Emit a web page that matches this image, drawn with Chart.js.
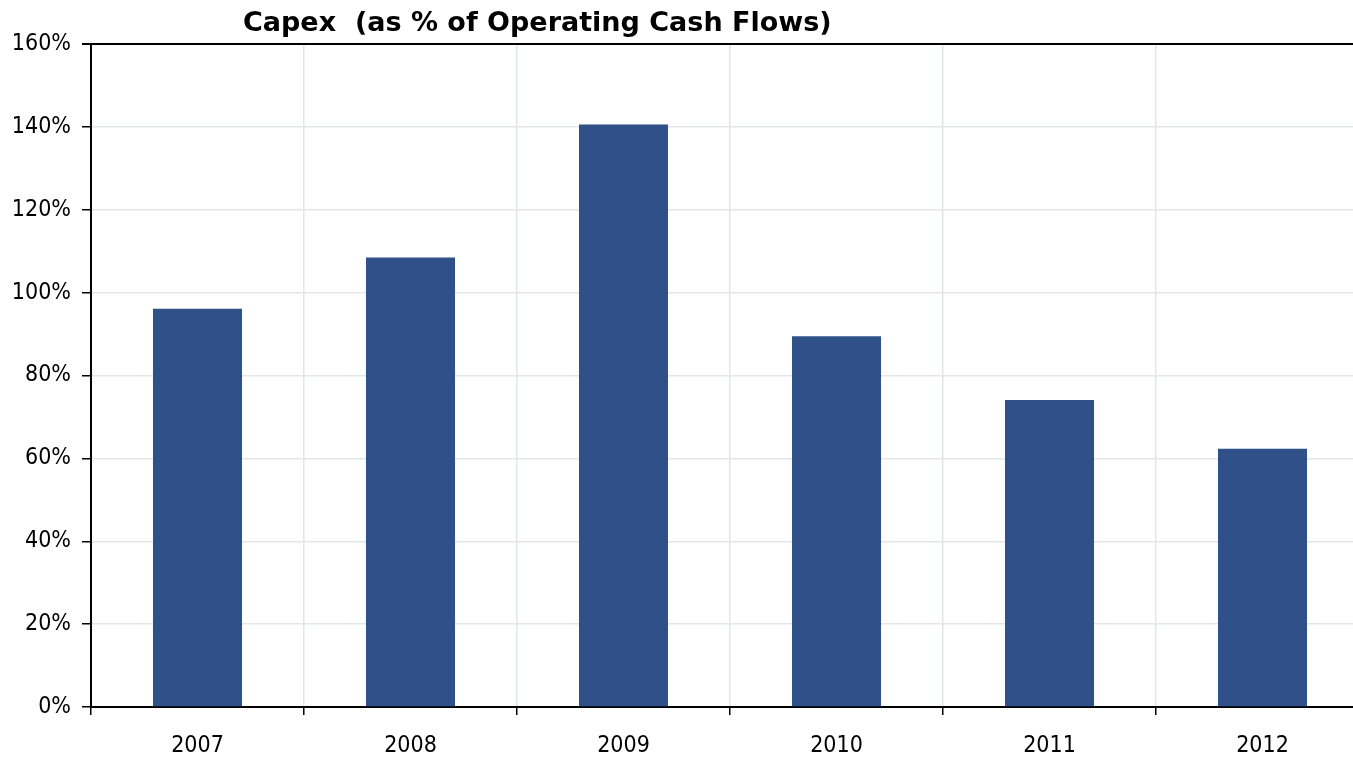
<!DOCTYPE html>
<html>
<head>
<meta charset="utf-8">
<script src="https://cdn.jsdelivr.net/npm/chart.js@4.4.1/dist/chart.umd.min.js"></script>
<style>
  html, body { margin: 0; padding: 0; background: #ffffff; overflow: hidden; }
  #wrap { position: relative; width: 1369px; height: 757px; }
</style>
</head>
<body>
<div id="wrap"><canvas id="c"></canvas></div>
<script>
const titleText = "Capex  (as % of Operating Cash Flows)";
const categories = ["2007", "2008", "2009", "2010", "2011", "2012"];
const capexPct = [96.1, 108.5, 140.6, 89.5, 74.1, 62.3];
const yTicks = [0, 20, 40, 60, 80, 100, 120, 140, 160];

const tickFont = { family: "'DejaVu Sans Condensed', 'Liberation Sans Narrow', sans-serif", size: 23 };

const titlePlugin = {
  id: 'leftTitle',
  afterDraw(chart) {
    const ctx = chart.ctx;
    ctx.save();
    ctx.font = "bold 27px 'DejaVu Sans', Verdana, sans-serif";
    ctx.fillStyle = '#000000';
    ctx.textBaseline = 'alphabetic';
    ctx.textAlign = 'left';
    ctx.fillText(titleText, 243, 31);
    ctx.restore();
  }
};

new Chart(document.getElementById('c'), {
  type: 'bar',
  data: {
    labels: categories,
    datasets: [{
      data: capexPct,
      backgroundColor: '#2F5089',
      borderWidth: 0,
      barPercentage: 0.418,
      categoryPercentage: 1.0
    }]
  },
  options: {
    responsive: true,
    maintainAspectRatio: false,
    animation: false,
    layout: { padding: { top: 44, right: 0, left: 0, bottom: 0 } },
    plugins: {
      legend: { display: false },
      title: { display: false },
      tooltip: { enabled: false }
    },
    scales: {
      x: {
        offset: true,
        grid: {
          offset: true,
          color: '#E2E8E8',
          lineWidth: 1.5,
          tickColor: '#000000',
          tickLength: 8,
          drawTicks: true
        },
        border: { color: '#000000', width: 2 },
        ticks: { color: '#000000', font: tickFont, padding: 17, maxRotation: 0 },
        afterFit(scale) { scale.height = 50; }
      },
      y: {
        min: 0,
        max: 160,
        afterBuildTicks(scale) { scale.ticks = yTicks.map(v => ({ value: v })); },
        grid: {
          color: (ctx) => (ctx.tick && ctx.tick.value === 160) ? '#000000' : '#E2E8E8',
          lineWidth: (ctx) => (ctx.tick && ctx.tick.value === 160) ? 2 : 1.5,
          tickColor: '#000000',
          tickLength: 9
        },
        border: { color: '#000000', width: 2 },
        ticks: {
          color: '#000000',
          font: tickFont,
          padding: 11,
          callback: (v) => v + '%'
        },
        afterFit(scale) { scale.width = 91; }
      }
    }
  },
  plugins: [titlePlugin]
});
</script>
</body>
</html>
